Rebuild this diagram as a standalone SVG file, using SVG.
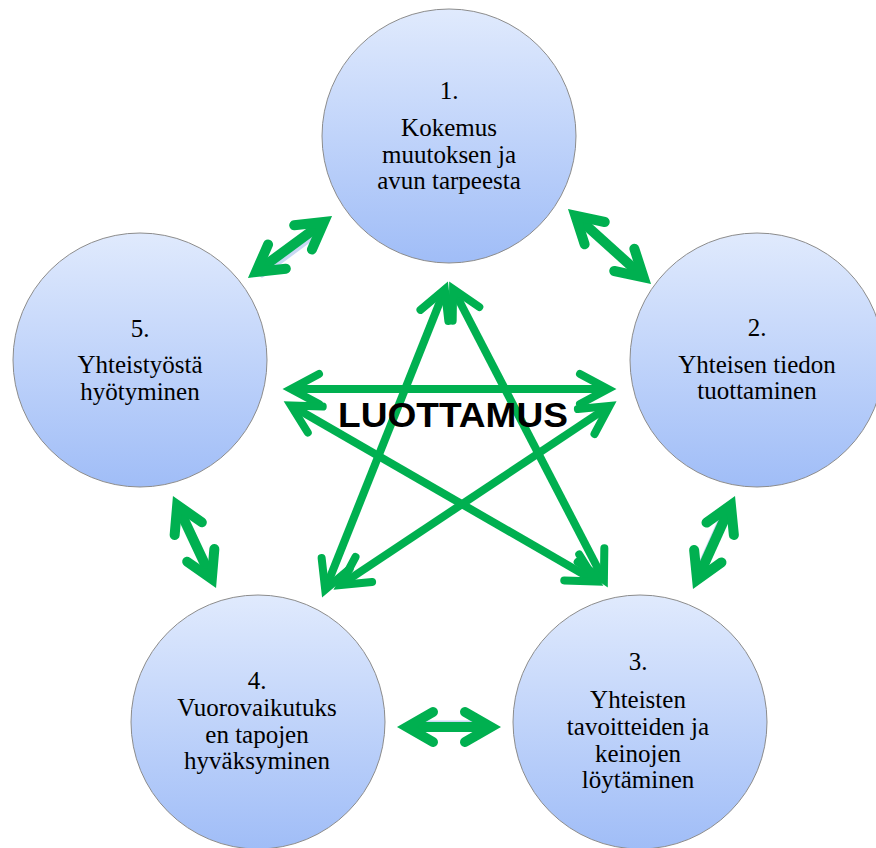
<svg xmlns="http://www.w3.org/2000/svg" width="876" height="848" viewBox="0 0 876 848">
  <style>
    .node circle { fill: url(#bubble); stroke: #8c8c8c; stroke-width: 1; }
    .label { font-family: "Liberation Serif", "Times New Roman", serif; font-size: 25px; fill: #000; text-anchor: middle; }
    .star { stroke: #00b050; stroke-width: 8; fill: none; marker-start: url(#headStar); marker-end: url(#headStar); }
    .link { stroke: #00b050; stroke-width: 10; fill: none; marker-start: url(#headLink); marker-end: url(#headLink); }
    .glow { stroke: #c9d8f3; stroke-width: 5; fill: none; stroke-linecap: round; }
    .title { font-family: "Liberation Sans", Arial, sans-serif; font-weight: bold; font-size: 35px; fill: #000; text-anchor: middle; }
  </style>
  <defs>
    <linearGradient id="bubble" x1="0" y1="0" x2="0" y2="1">
      <stop offset="0" stop-color="#e0eafd"/>
      <stop offset="1" stop-color="#a0bdf7"/>
    </linearGradient>
    <!-- open chevron heads, turned to follow the line at both ends -->
    <marker id="headStar" markerUnits="userSpaceOnUse" orient="auto-start-reverse" overflow="visible" markerWidth="1" markerHeight="1">
      <path d="M-28,-15 L0,0 L-28,15" fill="none" stroke="#00b050" stroke-width="8" stroke-linecap="round" stroke-linejoin="miter" stroke-miterlimit="10"/>
    </marker>
    <marker id="headLink" markerUnits="userSpaceOnUse" orient="auto-start-reverse" overflow="visible" markerWidth="1" markerHeight="1">
      <path d="M-26,-15 L0,0 L-26,15" fill="none" stroke="#00b050" stroke-width="10" stroke-linecap="round" stroke-linejoin="miter" stroke-miterlimit="10"/>
    </marker>
  </defs>

  <rect width="876" height="848" fill="#ffffff"/>

  <g id="node1" class="node">
    <circle cx="449" cy="136" r="127"/>
    <text class="label" x="449" y="99">1.</text>
    <text class="label" x="449" y="136">Kokemus</text>
    <text class="label" x="449" y="163">muutoksen ja</text>
    <text class="label" x="449" y="189">avun tarpeesta</text>
  </g>

  <g id="node2" class="node">
    <circle cx="757" cy="360" r="127"/>
    <text class="label" x="757" y="336">2.</text>
    <text class="label" x="757" y="373">Yhteisen tiedon</text>
    <text class="label" x="757" y="399">tuottaminen</text>
  </g>

  <g id="node3" class="node">
    <circle cx="640" cy="722" r="127"/>
    <text class="label" x="638" y="670">3.</text>
    <text class="label" x="638" y="708">Yhteisten</text>
    <text class="label" x="638" y="735">tavoitteiden ja</text>
    <text class="label" x="638" y="762">keinojen</text>
    <text class="label" x="638" y="788">löytäminen</text>
  </g>

  <g id="node4" class="node">
    <circle cx="258" cy="722" r="127"/>
    <text class="label" x="257" y="689">4.</text>
    <text class="label" x="257" y="716">Vuorovaikutuks</text>
    <text class="label" x="257" y="743">en tapojen</text>
    <text class="label" x="257" y="769">hyväksyminen</text>
  </g>

  <g id="node5" class="node">
    <circle cx="140" cy="360" r="127"/>
    <text class="label" x="140" y="337">5.</text>
    <text class="label" x="140" y="373">Yhteistyöstä</text>
    <text class="label" x="140" y="400">hyötyminen</text>
  </g>

  <g id="connectors">
    <!-- double arrows between neighbouring circles -->
    <line class="glow" x1="262" y1="275" x2="320" y2="232"/>
    <line class="glow" x1="183" y1="512" x2="211" y2="572"/>
    <line class="glow" x1="724" y1="512" x2="697" y2="572"/>
    <line class="glow" x1="425" y1="723" x2="475" y2="723"/>
    <line class="link" x1="256" y1="272" x2="324" y2="222"/>
    <line class="link" x1="575.4" y1="215.7" x2="643.6" y2="277.3"/>
    <line class="link" x1="177.2" y1="505.1" x2="211.8" y2="578.9"/>
    <line class="link" x1="730.9" y1="505.1" x2="697.1" y2="579.9"/>
    <line class="link" x1="407" y1="727" x2="491" y2="727"/>

    <!-- five-pointed star of double arrows -->
    <line class="star" x1="291" y1="389" x2="608" y2="389"/>
    <line class="star" x1="444.8" y1="289.4" x2="325.2" y2="589.6"/>
    <line class="star" x1="453.1" y1="289" x2="603.9" y2="580"/>
    <line class="star" x1="291" y1="405.5" x2="596" y2="581.5"/>
    <line class="star" x1="609.5" y1="406" x2="340.5" y2="585"/>
  </g>

  <g id="center">
    <text class="title" x="453" y="427" textLength="230" lengthAdjust="spacingAndGlyphs">LUOTTAMUS</text>
  </g>
</svg>
